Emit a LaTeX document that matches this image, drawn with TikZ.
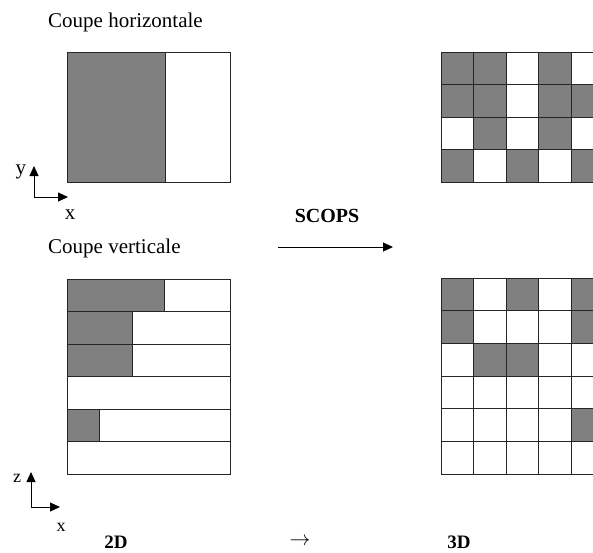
\documentclass[tikz,border=0pt]{standalone}
\usepackage{fontspec}
\setmainfont{Liberation Serif}
\usetikzlibrary{arrows.meta}

\begin{document}
\begin{tikzpicture}[x=1pt,y=-1pt,>={Triangle[length=10pt,width=9pt]},
  lbl/.style={font=\fontsize{21}{24}\selectfont,inner sep=0pt},
  box/.style={draw=black!85,line width=0.9pt},
  shade/.style={fill=black!50}]
\clip (0,0) rectangle (593,552);
% 2D, horizontal cut
\node[lbl,anchor=base west] (th) at (48,27) {Coupe horizontale};
\draw[box,shade] (67,52) rectangle (165,182);
\draw[box] (165,52) rectangle (230,182);
\coordinate (o1) at (34,197);
\coordinate (y1) at (34,166);
\coordinate (x1) at (68,197);
\draw[line width=0.9pt,->] (o1) -- (y1);
\draw[line width=0.9pt,->] (o1) -- (x1);
\node[lbl] (ly) at (21,172) {y};
\node[lbl] (lx1) at (70,215) {x};
% 2D, vertical cut
\node[lbl,anchor=base west] (tv) at (48,253) {Coupe verticale};
\foreach \w [count=\r from 0] in {3,2,2,0,1,0} {
  \ifnum\w>0 \fill[shade] (67,279+\r*32.5) rectangle ++(\w*32.6,32.5); \fi
  \draw[box] (67,279+\r*32.5) rectangle ++(163,32.5);
  \ifnum\w>0 \draw[box] (67+\w*32.6,279+\r*32.5) -- ++(0,32.5); \fi
}
\coordinate (o2) at (31,507);
\coordinate (z2) at (31,472);
\coordinate (x2) at (60,507);
\draw[line width=0.9pt,->] (o2) -- (z2);
\draw[line width=0.9pt,->] (o2) -- (x2);
\node[lbl,font=\fontsize{18}{20}\selectfont] (lz) at (17,478) {z};
\node[lbl,font=\fontsize{18}{20}\selectfont] (lx2) at (61,527) {x};
% SCOPS
\node[lbl,font=\fontsize{20}{24}\selectfont\bfseries,anchor=base] (sc) at (327,222) {SCOPS};
\coordinate (a1) at (278,247);
\coordinate (a2) at (393,247);
\draw[line width=0.9pt,->] (a1) -- (a2);
% 3D, horizontal
\foreach \c/\r in {0/0,1/0,3/0,0/1,1/1,3/1,4/1,1/2,3/2,0/3,2/3,4/3}
  \fill[shade] (441+\c*32.6,52+\r*32.5) rectangle ++(32.6,32.5);
\foreach \c in {0,...,4}
  \foreach \r in {0,...,3}
    \draw[box] (441+\c*32.6,52+\r*32.5) rectangle ++(32.6,32.5);
% 3D, vertical
\foreach \c/\r in {0/0,2/0,4/0,0/1,4/1,1/2,2/2,4/4}
  \fill[shade] (441+\c*32.6,278+\r*32.7) rectangle ++(32.6,32.7);
\foreach \c in {0,...,4}
  \foreach \r in {0,...,5}
    \draw[box] (441+\c*32.6,278+\r*32.7) rectangle ++(32.6,32.7);
% bottom line
\node[lbl,font=\fontsize{19}{22}\selectfont\bfseries] (d2) at (116,542) {2D};
\node[lbl] (ar) at (300,542) {$\rightarrow$};
\node[lbl,font=\fontsize{19}{22}\selectfont\bfseries] (d3) at (459,542) {3D};
\end{tikzpicture}
\end{document}
